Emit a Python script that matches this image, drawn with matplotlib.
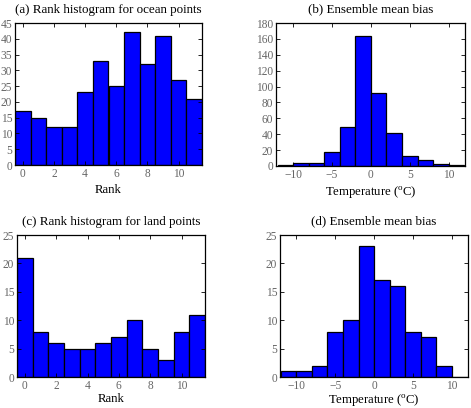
import matplotlib
matplotlib.use("Agg")
import matplotlib.pyplot as plt
import numpy as np

plt.rcParams['font.family'] = ['Liberation Serif', 'DejaVu Serif']
plt.rcParams['mathtext.fontset'] = 'custom'
plt.rcParams['mathtext.rm'] = 'Liberation Serif'

ranks = list(range(12))
ocean_counts = [17, 15, 12, 12, 23, 33, 25, 42, 32, 41, 27, 21]
land_counts = [21, 8, 6, 5, 5, 6, 7, 10, 5, 3, 8, 11]
bias_edges = [-12, -10, -8, -6, -4, -2, 0, 2, 4, 6, 8, 10, 12]
ocean_bias_counts = [1, 4, 4, 17, 49, 164, 92, 42, 12, 7, 3, 1]
land_bias_counts = [1, 1, 2, 8, 10, 23, 17, 16, 8, 7, 2, 0]

titles = ["(a) Rank histogram for ocean points", "(b) Ensemble mean bias",
          "(c) Rank histogram for land points", "(d) Ensemble mean bias"]
xlabels = ["Rank", "Temperature ($^{\\rm o}$C)", "Rank", "Temperature ($^{\\rm o}$C)"]

W, H = 471, 408
fig = plt.figure(figsize=(W / 100, H / 100), dpi=100)

def px(l, t, r, b):
    return [l / W, 1 - b / H, (r - l) / W, (b - t) / H]

boxes = [px(15, 23, 202, 165), px(276, 23, 465, 166),
         px(17, 235, 205, 377), px(280, 235, 467.5, 377)]

tickcol = '#666666'

def style(ax):
    ax.tick_params(direction='in', top=True, right=True, length=3, width=0.6,
                   labelsize=8.3, labelcolor=tickcol, pad=2)
    for s in ax.spines.values():
        s.set_linewidth(0.9)

# (a)
ax = fig.add_axes(boxes[0])
ax.bar(ranks, ocean_counts, width=1.0, color='#0000ff', edgecolor='black', linewidth=0.9)
ax.set_xlim(-0.5, 11.5)
ax.set_ylim(0, 45)
ax.set_xticks([0, 2, 4, 6, 8, 10])
ax.set_yticks(range(0, 46, 5))

# (b)
bx = fig.add_axes(boxes[1])
bx.hist(bias_edges[:-1], bins=bias_edges, weights=ocean_bias_counts,
        color='#0000ff', edgecolor='black', linewidth=0.9)
bx.set_xlim(-12.2, 12.1)
bx.set_ylim(0, 180)
bx.set_xticks([-10, -5, 0, 5, 10])
bx.set_xticklabels(['\u221210', '\u22125', '0', '5', '10'])
bx.set_yticks(range(0, 181, 20))

# (c)
cx = fig.add_axes(boxes[2])
cx.bar(ranks, land_counts, width=1.0, color='#0000ff', edgecolor='black', linewidth=0.9)
cx.set_xlim(-0.5, 11.5)
cx.set_ylim(0, 25)
cx.set_xticks([0, 2, 4, 6, 8, 10])
cx.set_yticks(range(0, 26, 5))

# (d)
dx = fig.add_axes(boxes[3])
dx.hist(bias_edges[:-1], bins=bias_edges, weights=land_bias_counts,
        color='#0000ff', edgecolor='black', linewidth=0.9)
dx.set_xlim(-12.1, 12.0)
dx.set_ylim(0, 25)
dx.set_xticks([-10, -5, 0, 5, 10])
dx.set_xticklabels(['\u221210', '\u22125', '0', '5', '10'])
dx.set_yticks(range(0, 26, 5))

for i, (a, t, xl) in enumerate(zip([ax, bx, cx, dx], titles, xlabels)):
    style(a)
    a.set_title(t, fontsize=9.4, pad=7.5)
    a.set_xlabel(xl, fontsize=9.2, labelpad=3 if i < 2 else 1)

fig.savefig("out.png", dpi=100)
